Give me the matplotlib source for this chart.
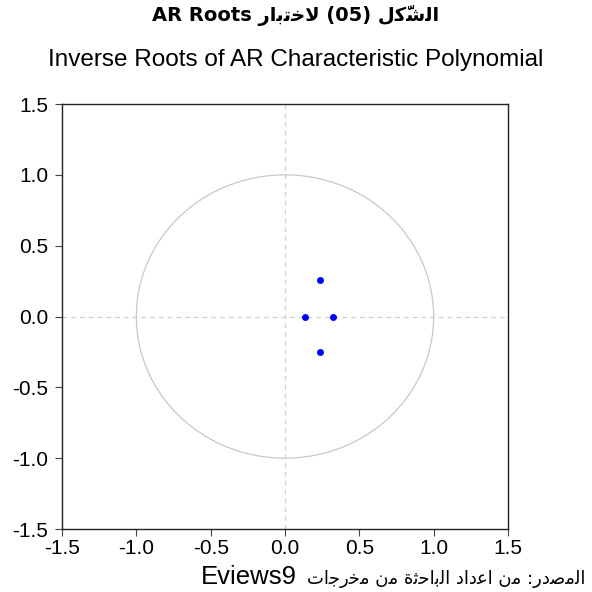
import numpy as np
import matplotlib
matplotlib.use("Agg")
import matplotlib.pyplot as plt

# inverse AR roots
re_roots = [0.235, 0.235, 0.134, 0.321]
im_roots = [0.255, -0.252, 0.0, 0.0]

ticks = [-1.5, -1.0, -0.5, 0.0, 0.5, 1.0, 1.5]
tick_labels = ["-1.5", "-1.0", "-0.5", "0.0", "0.5", "1.0", "1.5"]

title_ar = "الشَّكل (05) لاختبار AR Roots"
title_en = "Inverse Roots of AR Characteristic Polynomial"
source_ar = "المصدر: من اعداد الباحثة من مخرجات"
source_en = "Eviews9"

### simple arabic shaping (matplotlib has no bidi / joining)
FORMS = {
    'ا': (0xFE8D, 0xFE8E, None, None),
    'ب': (0xFE8F, 0xFE90, 0xFE91, 0xFE92),
    'ت': (0xFE95, 0xFE96, 0xFE97, 0xFE98),
    'ث': (0xFE99, 0xFE9A, 0xFE9B, 0xFE9C),
    'ج': (0xFE9D, 0xFE9E, 0xFE9F, 0xFEA0),
    'ح': (0xFEA1, 0xFEA2, 0xFEA3, 0xFEA4),
    'خ': (0xFEA5, 0xFEA6, 0xFEA7, 0xFEA8),
    'د': (0xFEA9, 0xFEAA, None, None),
    'ر': (0xFEAD, 0xFEAE, None, None),
    'ش': (0xFEB5, 0xFEB6, 0xFEB7, 0xFEB8),
    'ص': (0xFEB9, 0xFEBA, 0xFEBB, 0xFEBC),
    'ع': (0xFEC9, 0xFECA, 0xFECB, 0xFECC),
    'ك': (0xFED9, 0xFEDA, 0xFEDB, 0xFEDC),
    'ل': (0xFEDD, 0xFEDE, 0xFEDF, 0xFEE0),
    'م': (0xFEE1, 0xFEE2, 0xFEE3, 0xFEE4),
    'ن': (0xFEE5, 0xFEE6, 0xFEE7, 0xFEE8),
    'ة': (0xFE93, 0xFE94, None, None),
}
MARKS = set('\u064b\u064c\u064d\u064e\u064f\u0650\u0651\u0652')


def shape_word(w):
    letters = list(w)
    i = 0
    items = []
    while i < len(letters):
        c = letters[i]
        if c == 'ل' and i + 1 < len(letters) and letters[i + 1] == 'ا':
            items.append('LA')
            i += 2
        else:
            items.append(c)
            i += 1
    base = [k for k, c in enumerate(items) if c not in MARKS]
    for n, k in enumerate(base):
        c = items[k]
        prev = items[base[n - 1]] if n > 0 else None
        nxt = items[base[n + 1]] if n + 1 < len(base) else None
        join_prev = prev is not None and (prev in FORMS and FORMS[prev][2] is not None)
        if c == 'LA':
            items[k] = chr(0xFEFC if join_prev else 0xFEFB)
            continue
        if c not in FORMS:
            continue
        iso, fin, ini, med = FORMS[c]
        join_next = nxt is not None and (nxt in FORMS or nxt == 'LA') and ini is not None
        if join_prev and join_next:
            items[k] = chr(med)
        elif join_prev:
            items[k] = chr(fin)
        elif join_next:
            items[k] = chr(ini)
        else:
            items[k] = chr(iso)
    # group marks with their base, put the mark first so it lands on the base
    groups = []
    for c in items:
        if c in MARKS and groups:
            groups[-1] = groups[-1] + c
        else:
            groups.append(c)
    groups = [g[1:] + g[0] if len(g) > 1 else g for g in groups]
    return "".join(groups[::-1])


def is_arabic(w):
    return any('\u0600' <= c <= '\u06ff' for c in w)


def visual(text):
    words = text.split(" ")
    runs = []
    for w in words:
        if is_arabic(w):
            runs.append(shape_word(w))
        elif runs and isinstance(runs[-1], list):
            runs[-1].append(w)
        else:
            runs.append([w])
    runs = [" ".join(r) if isinstance(r, list) else r for r in runs]
    return " ".join(runs[::-1])


plt.rcParams['font.family'] = ['Liberation Sans', 'DejaVu Sans']

fig = plt.figure(figsize=(5.92, 5.92), dpi=100)
ax = fig.add_axes([0.1047, 0.1064, 0.7534, 0.7179])

th = np.linspace(0, 2 * np.pi, 400)
ax.plot(np.cos(th), np.sin(th), color='#c8c8c8', lw=0.9)
ax.axhline(0, color='#d0d0d0', lw=0.9, ls=(0, (4, 3)))
ax.axvline(0, color='#d0d0d0', lw=0.9, ls=(0, (4, 3)))
ax.plot(re_roots, im_roots, 'o', color='#0000ff', ms=5, mec='none')

ax.set_xlim(-1.5, 1.5)
ax.set_ylim(-1.5, 1.5)
ax.set_xticks(ticks)
ax.set_xticklabels(tick_labels)
ax.set_yticks(ticks)
ax.set_yticklabels(tick_labels)
ax.tick_params(direction='out', length=5, width=0.8, labelsize=15,
               top=False, right=False, color='#444444')
ax.tick_params(axis='x', pad=2)
ax.tick_params(axis='y', pad=5)
for s in ax.spines.values():
    s.set_linewidth(1.0)
    s.set_color('#222222')

fig.text(0.5, 0.974, visual(title_ar), ha='center', va='center',
         fontsize=14, fontweight='bold', family='DejaVu Sans')
fig.text(0.5, 0.898, title_en, ha='center', va='center', fontsize=17.5)

fig.text(0.988, 0.014, visual(source_ar), ha='right', va='baseline',
         fontsize=13, family='DejaVu Sans')
fig.text(0.502, 0.014, source_en, ha='right', va='baseline', fontsize=18.5)

fig.savefig("out.png", dpi=100, facecolor='white')
